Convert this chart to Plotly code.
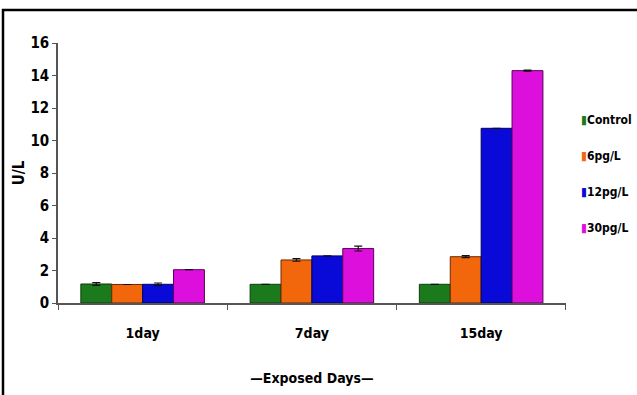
import plotly.graph_objects as go

# Enzyme activity (U/L) by exposure duration and concentration
days = ["1day", "7day", "15day"]
series_names = ["Control", "6pg/L", "12pg/L", "30pg/L"]
control = [1.17, 1.15, 1.15]
pg6 = [1.14, 2.65, 2.85]
pg12 = [1.15, 2.9, 10.75]
pg30 = [2.05, 3.35, 14.3]
control_err = [0.08, 0.0, 0.0]
pg6_err = [0.0, 0.08, 0.06]
pg12_err = [0.08, 0.0, 0.0]
pg30_err = [0.0, 0.15, 0.03]
y_ticks = [0, 2, 4, 6, 8, 10, 12, 14, 16]

values = [control, pg6, pg12, pg30]
errors = [control_err, pg6_err, pg12_err, pg30_err]
colors = ["#1b7a1b", "#f2660c", "#0a0ad8", "#dd0fdd"]
edges = ["#0b3d0b", "#6a2a00", "#000060", "#5a005a"]

FONT = "DejaVu Sans Condensed"

fig = go.Figure()
for i, (name, vals, errs) in enumerate(zip(series_names, values, errors)):
    fig.add_trace(go.Bar(
        x=days, y=vals, name=name, showlegend=False,
        marker=dict(color=colors[i], line=dict(color=edges[i], width=1)),
        error_y=dict(type="data", array=errs, visible=True,
                     color="#111111", thickness=1.2, width=4),
    ))

# Compact legend at the right edge: colored swatch glyph + series name
legend_y = [0.704, 0.565, 0.427, 0.288]
for name, col, ly in zip(series_names, colors, legend_y):
    fig.add_annotation(
        xref="paper", yref="paper", x=0.9, y=ly,
        xanchor="left", yanchor="middle", showarrow=False,
        text=f"<span style='color:{col}'>\u25AE</span>{name}",
        font=dict(family=FONT, size=12, color="black", weight="bold"),
    )

fig.update_layout(
    width=637, height=395,
    margin=dict(l=58, r=0, t=43, b=92, autoexpand=False),
    paper_bgcolor="white", plot_bgcolor="white",
    barmode="group", bargap=0.27, bargroupgap=0,
    font=dict(family=FONT, size=14, color="black", weight="bold"),
    showlegend=False,
    xaxis=dict(
        domain=[0, 0.877],
        showline=True, linecolor="#555555", linewidth=1.5,
        ticks="outside", tickson="boundaries", ticklen=5, tickcolor="#555555",
        ticklabelstandoff=16,
        tickfont=dict(family=FONT, size=14, weight="bold"),
        title=dict(text="\u2014Exposed Days\u2014", standoff=34,
                   font=dict(family=FONT, size=14, weight="bold")),
        showgrid=False,
    ),
    yaxis=dict(
        range=[0, 16], tickvals=y_ticks,
        showline=True, linecolor="#555555", linewidth=1.5,
        ticks="outside", ticklen=4, tickcolor="#555555",
        tickfont=dict(family=FONT, size=15, weight="bold"),
        title=dict(text="U/L", standoff=2,
                   font=dict(family=FONT, size=15, weight="bold")),
        showgrid=False, zeroline=False,
    ),
)

# Outer frame around the figure
fig.add_shape(type="rect", xref="paper", yref="paper",
              x0=-0.095, x1=1.2, y0=-0.5, y1=1.127,
              line=dict(color="black", width=2.5), fillcolor="rgba(0,0,0,0)",
              layer="below")

fig.write_html("out.html")
